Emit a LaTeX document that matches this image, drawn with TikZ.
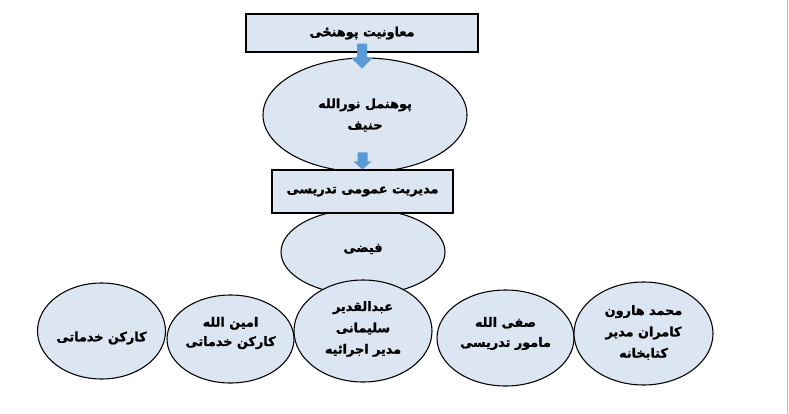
\documentclass[tikz,border=0pt]{standalone}
\usepackage{fontspec}
\newfontfamily\arabicfont[Script=Arabic, BoldFeatures={FakeBold=1.3}]{DejaVu Sans}
\TeXXeTstate=1
\usetikzlibrary{shapes.geometric,calc}
\definecolor{boxfill}{HTML}{DCE6F2}
\definecolor{arrowblue}{HTML}{5B9BD5}
\newcommand{\myrtl}[1]{\beginR #1\endR}
\def\px{*0.75pt}
\tikzset{
  base/.style={draw=black, line width=0.8pt, fill=boxfill, inner sep=0pt, align=center,
    font=\arabicfont\bfseries\fontsize{9.6}{16}\selectfont},
  boxnode/.style={base, rectangle},
  ellnode/.style={base, ellipse},
  txt/.style={inner sep=0pt, align=center, font=\arabicfont\bfseries\fontsize{9.6}{16}\selectfont},
  blockarrow/.style={fill=arrowblue, draw=none}
}
\begin{document}
\begin{tikzpicture}[x=0.75pt,y=-0.75pt]
\useasboundingbox (0,0) rectangle (789,414);
\fill[white] (0,0) rectangle (789,414);
\draw[black!25, line width=1pt] (787.5,0) -- (787.5,414);

\node[boxnode, minimum width=232\px, minimum height=38\px] (r1) at (362,33) {\myrtl{معاونیت پوهنځی}};
\node[ellnode, minimum width=204\px, minimum height=114\px] (e1) at (365,115) {\myrtl{پوهنمل نورالله}\\\myrtl{حنیف}};
\node[ellnode, minimum width=164\px, minimum height=86\px] (f) at (363,252) {};
\node[txt] (ft) at ($(f)+(0,-3)$) {\myrtl{فیضی}};
\node[boxnode, minimum width=181\px, minimum height=43\px] (r2) at (362.5,191.5) {\myrtl{مدیریت عمومی تدریسی}};

% block arrows
\fill[blockarrow] ($(r1.south)+(-5,-9)$) -- ($(r1.south)+(5,-9)$) -- ($(r1.south)+(5,5)$) -- ($(r1.south)+(11,5)$)
  -- ($(r1.south)+(0,16)$) -- ($(r1.south)+(-11,5)$) -- ($(r1.south)+(-5,5)$) -- cycle;
\fill[blockarrow] ($(r2.north)+(-5,-17)$) -- ($(r2.north)+(5,-17)$) -- ($(r2.north)+(5,-8)$) -- ($(r2.north)+(9,-8)$)
  -- (r2.north) -- ($(r2.north)+(-9,-8)$) -- ($(r2.north)+(-5,-8)$) -- cycle;

\node[ellnode, minimum width=128\px, minimum height=96\px] (b1) at (101.5,331) {};
\node[txt] (b1t) at ($(b1)+(0,7)$) {\myrtl{کارکن خدماتی}};
\node[ellnode, minimum width=127\px, minimum height=88\px] (b2) at (230.5,339) {};
\node[txt, font=\arabicfont\bfseries\fontsize{9.6}{14.5}\selectfont] (b2t) at ($(b2)+(0,-6)$) {\myrtl{امین الله}\\\myrtl{کارکن خدماتی}};
\node[ellnode, minimum width=138\px, minimum height=102\px] (b3) at (363,331) {};
\node[txt] (b3t) at ($(b3)+(0,-2)$) {\myrtl{عبدالقدیر}\\\myrtl{سلیمانی}\\\myrtl{مدیر اجرائیه}};
\node[ellnode, minimum width=137\px, minimum height=96\px] (b4) at (505.5,338) {};
\node[txt, font=\arabicfont\bfseries\fontsize{9.6}{15}\selectfont] (b4t) at ($(b4)+(0,-4.5)$) {\myrtl{صفی الله}\\\myrtl{مامور تدریسی}};
\node[ellnode, minimum width=139\px, minimum height=103\px] (b5) at (643.5,333.5) {};
\node[txt] (b5t) at ($(b5)+(0,-1)$) {\myrtl{محمد هارون}\\\myrtl{کامران مدیر}\\\myrtl{کتابخانه}};
\end{tikzpicture}
\end{document}
